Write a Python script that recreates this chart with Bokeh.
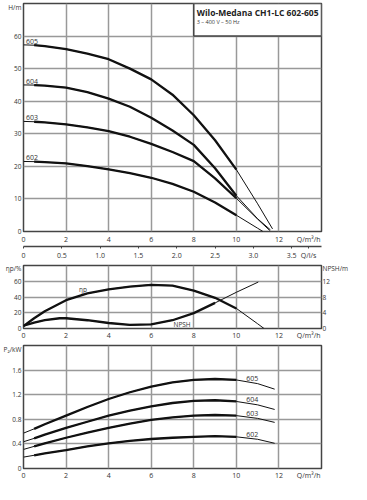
from bokeh.plotting import figure
from bokeh.models import Range1d, LinearAxis, FixedTicker, Label, ColumnDataSource, BoxAnnotation
from bokeh.layouts import column
from bokeh.embed import file_html
from bokeh.resources import INLINE
from bokeh.core.properties import value

# ---------------- data ----------------
PUMPS = ["602", "603", "604", "605"]

# Head curves H (m) vs Q (m3/h)
Q_602_H = [0, 0.5, 1, 2, 3, 4, 5, 6, 7, 8, 9, 10, 11, 11.25]
H_602 = [21.5, 21.45, 21.3, 20.9, 20.1, 19.1, 17.9, 16.5, 14.6, 12.2, 8.9, 5.0, 1.0, 0.0]
Q_603_H = [0, 0.5, 1, 2, 3, 4, 5, 6, 7, 8, 9, 10, 11, 11.57]
H_603 = [33.8, 33.7, 33.5, 32.9, 32.0, 30.8, 29.1, 26.9, 24.4, 21.6, 16.3, 10.2, 3.8, 0.3]
Q_604_H = [0, 0.5, 1, 2, 3, 4, 5, 6, 7, 8, 9, 10, 11, 11.6]
H_604 = [45.0, 44.95, 44.8, 44.2, 42.8, 40.8, 38.3, 34.9, 31.0, 26.6, 19.4, 11.0, 3.9, 0.5]
Q_605_H = [0, 0.5, 1, 2, 3, 4, 5, 6, 7, 8, 9, 10, 11, 11.7]
H_605 = [57.3, 57.2, 56.9, 56.0, 54.6, 52.9, 50.0, 46.7, 42.0, 35.7, 28.0, 19.0, 8.5, 0.8]

# Efficiency (%) and NPSH (m)
Q_ETA = [0, 0.5, 1, 2, 3, 4, 5, 6, 7, 8, 9, 10, 11, 11.3]
ETA = [3, 13, 22, 36, 44.5, 49.7, 53.3, 55.5, 54.5, 48, 39, 25.5, 6, 0]
Q_NPSH = [0, 0.5, 1, 1.7, 2, 3, 4, 5, 6, 7, 8, 9, 10, 11.03]
NPSH = [0.7, 1.5, 2.1, 2.6, 2.6, 2.1, 1.4, 0.9, 1.05, 2.1, 3.9, 6.5, 9.2, 11.8]

# Power P2 (kW)
Q_P = [0, 0.5, 1, 2, 3, 4, 5, 6, 7, 8, 9, 10, 11, 11.8]
P_602 = [0.185, 0.215, 0.245, 0.30, 0.36, 0.41, 0.45, 0.48, 0.50, 0.515, 0.525, 0.515, 0.475, 0.41]
P_603 = [0.31, 0.36, 0.41, 0.50, 0.585, 0.66, 0.73, 0.79, 0.83, 0.86, 0.87, 0.86, 0.815, 0.75]
P_604 = [0.435, 0.49, 0.55, 0.66, 0.76, 0.86, 0.94, 1.01, 1.065, 1.10, 1.11, 1.09, 1.035, 0.96]
P_605 = [0.575, 0.645, 0.72, 0.86, 1.0, 1.13, 1.24, 1.33, 1.40, 1.44, 1.455, 1.44, 1.38, 1.29]

# axis ranges, ticks, labels
Q_MAX = 14
H_MAX, ETA_MAX, NPSH_MAX, P_MAX = 70, 80, 16, 2.0
Q_TICKS = [0, 2, 4, 6, 8, 10, 12]
Q_GRID = [2, 4, 6, 8, 10, 12]
H_TICKS = [0, 10, 20, 30, 40, 50, 60]
LS_TICKS = [0, 0.5, 1.0, 1.5, 2.0, 2.5, 3.0, 3.5]
LS_LABELS = ["0", "0.5", "1.0", "1.5", "2.0", "2.5", "3.0", "3.5"]
ETA_TICKS = [0, 20, 40, 60]
NPSH_TICKS = [0, 4, 8, 12]
P_TICKS = [0, 0.4, 0.8, 1.2, 1.6]
P_LABELS = ["0", "0.4", "0.8", "1.2", "1.6"]

# axis titles, placed as extra tick labels
Q_TITLE, Q_TITLE_AT = "Q/m³/h", 13.4
LS_TITLE, LS_TITLE_AT = "Q/l/s", 3.72
H_TITLE, H_TITLE_AT = "H/m", 68.9
ETA_TITLE, ETA_TITLE_AT = "ηp/%", 76.0
NPSH_TITLE, NPSH_TITLE_AT = "NPSH/m", 15.2
P_TITLE, P_TITLE_AT = "P₂/kW", 1.94

TITLE = "Wilo-Medana CH1-LC 602-605"
SUBTITLE = "3 – 400 V – 50 Hz"
BOX_Q = (8, 14)
BOX_H = (60, 70)

# ---------------- style ----------------
FONT = "Open Sans"
TXT = "#333333"
GRID = "#999999"
FRAME = "#444444"
CURVE = "#111111"
THIN = 1.0
THICK = 2.3
W = 351
BL, BR = 22, 26


def base_fig(h, yr, top, bottom, grid_y):
    p = figure(width=W, height=h, x_range=Range1d(0, Q_MAX), y_range=yr, output_backend="svg",
               toolbar_location=None, min_border_left=BL, min_border_right=BR,
               min_border_top=top, min_border_bottom=bottom)
    p.outline_line_color = FRAME
    p.outline_line_width = 1.5
    p.outline_line_alpha = 1
    p.xgrid.ticker = FixedTicker(ticks=Q_GRID)
    p.ygrid.ticker = FixedTicker(ticks=grid_y)
    for g in (p.xgrid, p.ygrid):
        g.grid_line_color = GRID
        g.grid_line_width = 1.5
        g.grid_line_alpha = 1
    return p


def style_axis(ax, standoff=2, size="7px"):
    ax.axis_line_color = None
    ax.major_tick_line_color = None
    ax.minor_tick_line_color = None
    ax.major_tick_out = 0
    ax.major_tick_in = 0
    ax.minor_tick_out = 0
    ax.minor_tick_in = 0
    ax.major_label_text_font = FONT
    ax.major_label_text_font_size = size
    ax.major_label_text_color = TXT
    ax.major_label_standoff = standoff


def set_ticks(ax, ticks, labels, title, title_at):
    ax.ticker = FixedTicker(ticks=list(ticks) + [title_at])
    ov = dict(zip(ticks, labels))
    ov[title_at] = title
    ax.major_label_overrides = ov


def curve(p, qs, vs, lo, hi, **kw):
    p.line(qs, vs, line_width=THIN, line_color=CURVE, **kw)
    sq = [q for q in qs if lo <= q <= hi]
    sv = [v for q, v in zip(qs, vs) if lo <= q <= hi]
    p.line(sq, sv, line_width=THICK, line_color=CURVE, **kw)


# ---------------- figure 1: head ----------------
p1 = base_fig(262, Range1d(0, H_MAX), 3, 31, H_TICKS[1:])
style_axis(p1.xaxis[0], 3)
style_axis(p1.yaxis[0], 2, "6.5px")
set_ticks(p1.xaxis[0], Q_TICKS, [str(t) for t in Q_TICKS], Q_TITLE, Q_TITLE_AT)
set_ticks(p1.yaxis[0], H_TICKS, [str(t) for t in H_TICKS], H_TITLE, H_TITLE_AT)

p1.extra_x_ranges = {"ls": Range1d(0, Q_MAX / 3.6)}
ax_ls = LinearAxis(x_range_name="ls")
style_axis(ax_ls, 2)
set_ticks(ax_ls, LS_TICKS, LS_LABELS, LS_TITLE, LS_TITLE_AT)
ax_ls.axis_line_color = FRAME
ax_ls.axis_line_width = 1.5
ax_ls.major_tick_line_color = FRAME
ax_ls.major_tick_out = 2
p1.add_layout(ax_ls, "below")

p1.add_layout(BoxAnnotation(left=BOX_Q[0], right=BOX_Q[1], bottom=BOX_H[0], top=BOX_H[1],
                            fill_color="white", fill_alpha=1, line_color=FRAME, line_alpha=1, line_width=1.5))

for qs, hs in zip([Q_602_H, Q_603_H, Q_604_H, Q_605_H], [H_602, H_603, H_604, H_605]):
    curve(p1, qs, hs, 0.5, 10)

lab1 = ColumnDataSource(dict(x=[0.12] * 4, y=[h[0] + 0.4 for h in (H_602, H_603, H_604, H_605)], t=PUMPS))
p1.text(x="x", y="y", text="t", source=lab1, text_font=value(FONT), text_font_size="7px",
        text_color=TXT, text_align="left", text_baseline="bottom")

p1.add_layout(Label(x=BOX_Q[0], y=BOX_H[1], x_offset=3, y_offset=-3, text=TITLE, text_align="left",
                    text_baseline="top", text_font=FONT, text_font_size="8.5px",
                    text_font_style="bold", text_color="#222222"))
p1.add_layout(Label(x=BOX_Q[0], y=BOX_H[1], x_offset=3, y_offset=-14, text=SUBTITLE, text_align="left",
                    text_baseline="top", text_font=FONT, text_font_size="5.5px", text_color=TXT))

# ---------------- figure 2: efficiency & NPSH ----------------
p2 = base_fig(80, Range1d(0, ETA_MAX), 3, 14, ETA_TICKS[1:])
style_axis(p2.xaxis[0], 2)
style_axis(p2.yaxis[0], 2, "6.5px")
set_ticks(p2.xaxis[0], Q_TICKS, [str(t) for t in Q_TICKS], Q_TITLE, Q_TITLE_AT)
set_ticks(p2.yaxis[0], ETA_TICKS, [str(t) for t in ETA_TICKS], ETA_TITLE, ETA_TITLE_AT)
p2.extra_y_ranges = {"npsh": Range1d(0, NPSH_MAX)}
ax_np = LinearAxis(y_range_name="npsh")
style_axis(ax_np, 1, "6.5px")
set_ticks(ax_np, NPSH_TICKS, [str(t) for t in NPSH_TICKS], NPSH_TITLE, NPSH_TITLE_AT)
p2.add_layout(ax_np, "right")

curve(p2, Q_ETA, ETA, 0, 10)
curve(p2, Q_NPSH, NPSH, 0, 9, y_range_name="npsh")

lab2 = ColumnDataSource(dict(x=[2.8, 7.45], y=[50, 5], t=["ηp", "NPSH"]))
p2.text(x="x", y="y", text="t", source=lab2, text_font=value(FONT), text_font_size="6.5px",
        text_color=TXT, text_align="center", text_baseline="middle")

# ---------------- figure 3: power ----------------
p3 = base_fig(140, Range1d(0, P_MAX), 3, 14, P_TICKS[1:])
style_axis(p3.xaxis[0], 2)
style_axis(p3.yaxis[0], 2, "6.5px")
set_ticks(p3.xaxis[0], Q_TICKS, [str(t) for t in Q_TICKS], Q_TITLE, Q_TITLE_AT)
set_ticks(p3.yaxis[0], P_TICKS, P_LABELS, P_TITLE, P_TITLE_AT)

for ps in [P_602, P_603, P_604, P_605]:
    curve(p3, Q_P, ps, 0.5, 10)

lab3 = ColumnDataSource(dict(x=[10.75] * 4, y=[0.56, 0.90, 1.12, 1.46], t=PUMPS))
p3.text(x="x", y="y", text="t", source=lab3, text_font=value(FONT), text_font_size="7px",
        text_color=TXT, text_align="center", text_baseline="middle")

layout = column(p1, p2, p3)
open("out.html", "w").write(file_html(layout, INLINE))
